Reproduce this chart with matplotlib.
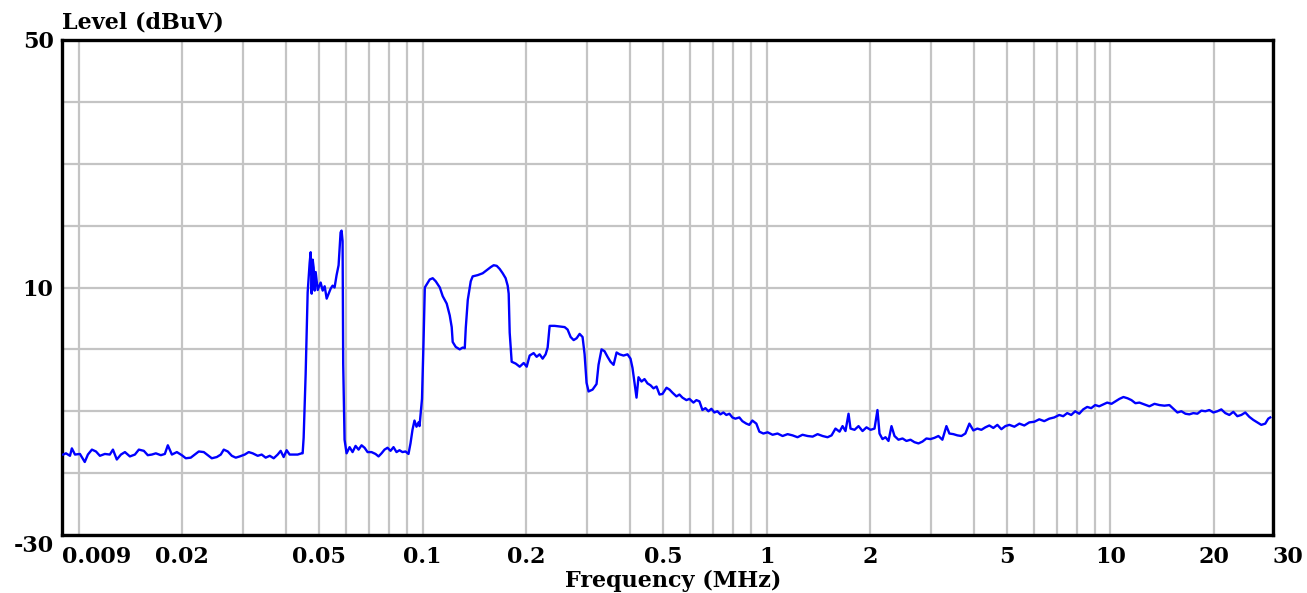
import matplotlib
matplotlib.use('Agg')
import matplotlib.pyplot as plt
import numpy as np

# frequency (MHz) and level (dBuV)
freq_low = [0.009, 0.00917, 0.00942, 0.00954, 0.00974, 0.01007, 0.0104, 0.01062,
            0.01091, 0.01121, 0.01151, 0.0119, 0.0123, 0.01256, 0.01289, 0.01325,
            0.01361, 0.01407, 0.01455, 0.01494, 0.01545, 0.01586, 0.0163, 0.01674,
            0.01731, 0.01778, 0.01814, 0.01864, 0.01927, 0.01992, 0.02046, 0.02115,
            0.02173, 0.02232, 0.02308, 0.0237, 0.02435, 0.02518, 0.02586, 0.02638,
            0.0271, 0.02784, 0.02859, 0.02936, 0.03036, 0.03118, 0.03202, 0.03311,
            0.03401, 0.03493, 0.03589, 0.03686, 0.03785, 0.03862, 0.0394, 0.0402,
            0.04101, 0.04213, 0.04327, 0.04444]
level_low = [-17.0, -16.8, -17.2, -16.0, -17.0, -16.9, -18.2, -17.0,
             -16.2, -16.5, -17.2, -16.9, -17.0, -16.2, -17.8, -17.0,
             -16.6, -17.3, -17.0, -16.2, -16.4, -17.1, -17.0, -16.8,
             -17.1, -16.9, -15.5, -17.0, -16.6, -17.1, -17.6, -17.5,
             -17.0, -16.5, -16.6, -17.1, -17.6, -17.4, -17.0, -16.2,
             -16.5, -17.2, -17.5, -17.3, -17.0, -16.6, -16.8, -17.2,
             -17.0, -17.5, -17.2, -17.6, -17.0, -16.4, -17.4, -16.3,
             -17.0, -17.0, -17.0, -16.8]

freq_peak = [0.04474, 0.04504, 0.04565, 0.04627, 0.04689, 0.04721, 0.04753, 0.04785,
             0.04817, 0.04849, 0.04882, 0.04948, 0.05048, 0.05116, 0.05185, 0.05255,
             0.05324, 0.05396, 0.05468, 0.05541, 0.05616, 0.05692, 0.05768, 0.05807,
             0.05846, 0.05870, 0.05924, 0.06005, 0.06127, 0.0625, 0.06377, 0.06507,
             0.06638, 0.06773, 0.0691, 0.07097, 0.07288, 0.07438, 0.07588, 0.07742,
             0.07899, 0.08059, 0.08222, 0.08388, 0.08558, 0.08731, 0.08908, 0.0909,
             0.09212, 0.09336, 0.09462, 0.0959, 0.0972, 0.09785, 0.0995, 0.1005, 0.1014]
level_peak = [-16.8, -14.3, -4.0, 9.2, 14.0, 15.7, 9.0, 14.5,
              13.2, 9.5, 12.5, 9.6, 10.8, 9.5, 10.2, 8.2,
              9.0, 9.8, 10.3, 10.0, 12.0, 13.6, 18.9, 19.2,
              17.5, -2.4, -14.6, -16.8, -15.8, -16.6, -15.6, -16.2,
              -15.5, -15.9, -16.6, -16.6, -16.9, -17.3, -16.8, -16.2,
              -15.9, -16.4, -15.8, -16.6, -16.3, -16.6, -16.5, -16.9,
              -15.2, -13.0, -11.5, -12.5, -11.8, -12.4, -8.0, 1.0, 10.0]

freq_mid = [0.1027, 0.1048, 0.1069, 0.1091, 0.1121, 0.1143, 0.1174, 0.1198,
            0.1214, 0.1222, 0.1247, 0.1281, 0.1307, 0.1325, 0.1334, 0.1352,
            0.1379, 0.1397, 0.1445, 0.1494, 0.1535, 0.1577, 0.1608, 0.1641,
            0.1674, 0.1708, 0.1742, 0.1766, 0.1778, 0.179, 0.1814, 0.1864,
            0.1914, 0.1966, 0.2006, 0.2046, 0.2101, 0.2144, 0.2187, 0.2232,
            0.2277, 0.2308, 0.2339, 0.2418, 0.2501, 0.2586, 0.2638, 0.2692,
            0.2747, 0.2802, 0.2859, 0.2916, 0.2956, 0.2995, 0.3036, 0.3118,
            0.3202, 0.3245, 0.3311, 0.3378, 0.3447, 0.3516, 0.3589, 0.3662,
            0.3735, 0.3836, 0.394, 0.402, 0.4074, 0.4129, 0.4185, 0.4241,
            0.4327, 0.4415, 0.4504, 0.4596, 0.4689, 0.4785, 0.4882, 0.498,
            0.5116, 0.522, 0.5324, 0.5468, 0.5579, 0.5692, 0.5846, 0.5964,
            0.6127, 0.625, 0.6377, 0.6507, 0.6638, 0.6773, 0.691, 0.7049,
            0.7192, 0.7338, 0.7487, 0.7638, 0.7794, 0.7952, 0.8113, 0.8332,
            0.8502, 0.8731, 0.8908, 0.909, 0.9336, 0.9526, 0.9785]
level_mid = [10.5, 11.3, 11.5, 11.0, 10.0, 8.6, 7.4, 5.5,
             3.6, 1.2, 0.4, 0.0, 0.3, 0.2, 3.5, 8.0,
             11.0, 11.8, 12.0, 12.3, 12.8, 13.3, 13.6, 13.5,
             13.0, 12.3, 11.5, 10.3, 9.0, 2.7, -2.0, -2.3,
             -2.8, -2.2, -2.8, -1.0, -0.6, -1.2, -0.8, -1.5,
             -0.8, 0.3, 3.8, 3.8, 3.7, 3.6, 3.2, 2.0,
             1.5, 1.8, 2.5, 2.0, -0.8, -5.4, -6.8, -6.5,
             -5.6, -2.5, 0.0, -0.3, -1.2, -2.0, -2.5, -0.5,
             -0.8, -1.0, -0.8, -1.5, -3.0, -5.4, -7.8, -4.5,
             -5.2, -4.8, -5.5, -5.8, -6.3, -6.0, -7.3, -7.2,
             -6.2, -6.5, -7.0, -7.6, -7.3, -7.8, -8.2, -8.0,
             -8.6, -8.2, -8.4, -9.8, -9.5, -10.0, -9.6, -10.2,
             -10.0, -10.5, -10.2, -10.6, -10.4, -11.0, -11.2, -11.0,
             -11.6, -12.0, -12.2, -11.5, -12.0, -13.3, -13.6]

freq_high = [1.007, 1.041, 1.076, 1.113, 1.151, 1.19, 1.23, 1.272,
             1.316, 1.361, 1.407, 1.455, 1.504, 1.545, 1.586, 1.63,
             1.663, 1.696, 1.731, 1.754, 1.802, 1.851, 1.901, 1.952,
             2.006, 2.06, 2.101, 2.13, 2.173, 2.217, 2.262, 2.308,
             2.355, 2.418, 2.485, 2.551, 2.621, 2.692, 2.765, 2.84,
             2.916, 2.995, 3.077, 3.16, 3.245, 3.334, 3.401, 3.493,
             3.589, 3.686, 3.785, 3.888, 3.993, 4.101, 4.213, 4.327,
             4.444, 4.565, 4.689, 4.817, 4.948, 5.082, 5.255, 5.434,
             5.616, 5.807, 6.005, 6.208, 6.419, 6.638, 6.864, 7.097,
             7.288, 7.487, 7.689, 7.899, 8.113, 8.332, 8.558, 8.789,
             9.028, 9.274, 9.526, 9.785, 10.07, 10.34, 10.62, 10.91,
             11.21, 11.51, 11.82, 12.14, 12.56, 12.98, 13.43, 13.88,
             14.35, 14.84, 15.24, 15.66, 16.08, 16.52, 16.96, 17.42,
             17.9, 18.38, 18.88, 19.39, 19.92, 20.46, 21.01, 21.58,
             22.17, 22.77, 23.39, 24.02, 24.67, 25.34, 26.03, 26.73,
             27.46, 28.2, 28.77, 29.16]
level_high = [-13.4, -13.8, -13.6, -14.0, -13.7, -13.9, -14.2, -13.8,
              -14.0, -14.1, -13.7, -14.0, -14.2, -13.9, -12.8, -13.3,
              -12.4, -13.2, -10.4, -12.8, -13.0, -12.4, -13.2, -12.6,
              -13.0, -12.8, -9.8, -13.6, -14.5, -14.2, -14.8, -12.4,
              -14.0, -14.6, -14.4, -14.8, -14.6, -15.0, -15.2, -14.9,
              -14.4, -14.5, -14.3, -14.0, -14.6, -12.4, -13.6, -13.7,
              -13.9, -14.0, -13.6, -12.0, -13.1, -12.8, -13.0, -12.6,
              -12.3, -12.7, -12.2, -12.9, -12.4, -12.2, -12.5, -12.0,
              -12.3, -11.8, -11.7, -11.3, -11.6, -11.2, -11.0, -10.6,
              -10.8, -10.3, -10.6, -10.0, -10.4, -9.7, -9.3, -9.5,
              -9.0, -9.2, -8.9, -8.6, -8.8, -8.4, -8.0, -7.7,
              -7.9, -8.2, -8.7, -8.6, -8.9, -9.2, -8.8, -9.0,
              -9.1, -9.0, -9.6, -10.2, -10.0, -10.4, -10.5, -10.3,
              -10.4, -9.9, -10.0, -9.8, -10.2, -10.0, -9.7, -10.3,
              -10.6, -10.1, -10.8, -10.6, -10.2, -10.9, -11.4, -11.8,
              -12.2, -12.0, -11.2, -11.0]

freq = np.array(freq_low + freq_peak + freq_mid + freq_high)
level = np.array(level_low + level_peak + level_mid + level_high)

# sweep limits: the end labels sit on the frame edges
f_start, f_stop = 0.00893, 29.7
xtick_vals = [f_start, 0.02, 0.05, 0.1, 0.2, 0.5, 1, 2, 5, 10, 20, f_stop]
xtick_labels = ['0.009', '0.02', '0.05', '0.1', '0.2', '0.5', '1', '2', '5', '10', '20', '30']
grid_freqs = [m * 10.0 ** e for e in (-2, -1, 0, 1) for m in range(1, 10) if m * 10.0 ** e < 30]
ytick_vals = [-30, 10, 50]
ygrid_vals = list(range(-30, 51, 10))

font = dict(family='DejaVu Serif', weight='bold', size=16)

fig = plt.figure(figsize=(13.07, 5.93), dpi=100)
ax = fig.add_axes([62 / 1307, 58 / 593, 1211 / 1307, 495 / 593])

ax.plot(freq, level, color='#0000ff', lw=1.7, zorder=3)

ax.set_xscale('log')
ax.set_xlim(f_start, f_stop)
ax.set_ylim(-30, 50)

ax.set_xticks(xtick_vals)
ax.set_xticklabels(xtick_labels, fontdict=font)
ax.set_xticks(grid_freqs, minor=True)
ax.xaxis.set_minor_formatter(plt.NullFormatter())
ax.set_yticks(ytick_vals)
ax.set_yticklabels([str(v) for v in ytick_vals], fontdict=font)
ax.set_yticks(ygrid_vals, minor=True)

ax.tick_params(which='both', length=0)
ax.tick_params(axis='x', pad=8)
ax.tick_params(axis='y', pad=6)
xl = ax.get_xticklabels()
xl[0].set_ha('left')
xl[-1].set_ha('left')
yl = ax.get_yticklabels()
yl[0].set_va('top')

ax.grid(True, which='both', color='#c4c4c4', lw=1.6)
ax.set_axisbelow(True)
for sp in ax.spines.values():
    sp.set_linewidth(2.4)
    sp.set_color('black')

fig.text(62 / 1307, 1 - 23 / 593, 'Level (dBuV)', ha='left', va='center', **font)
fig.text(673 / 1307, 0.002, 'Frequency (MHz)', ha='center', va='bottom', **font)

fig.savefig('out.png', dpi=100, facecolor='white')
